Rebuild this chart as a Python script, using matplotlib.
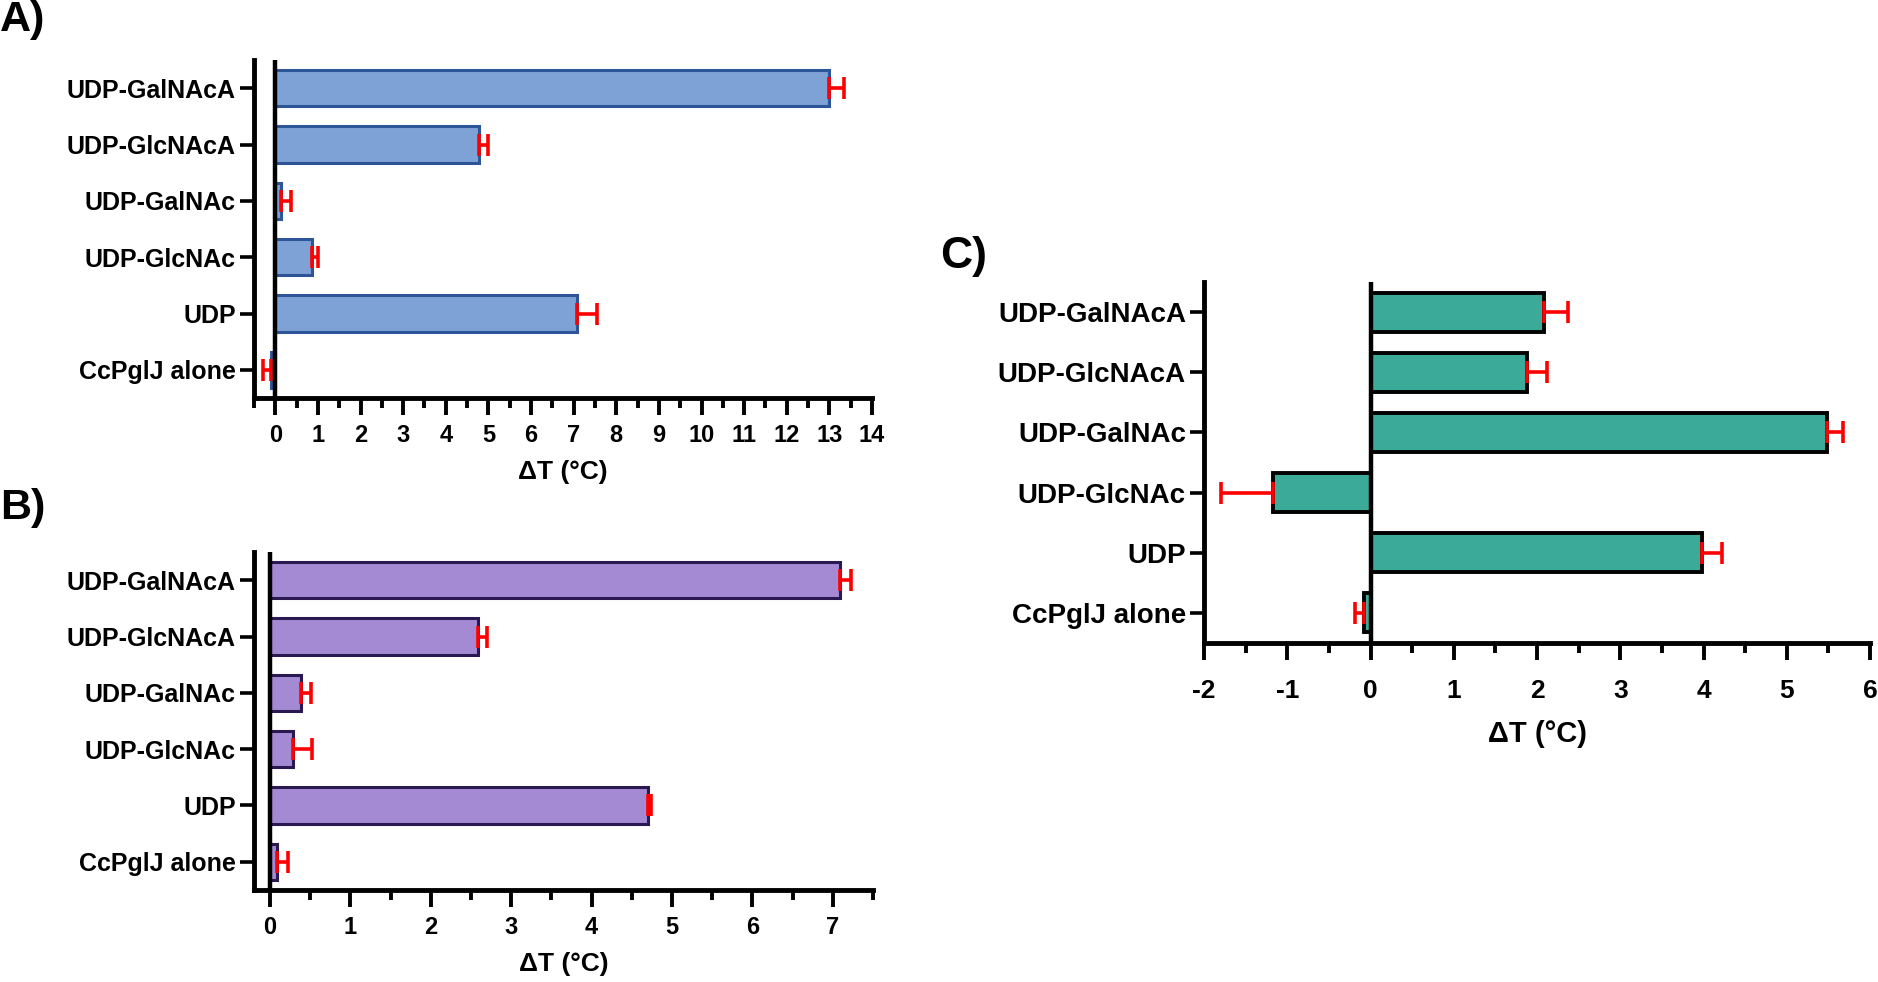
import matplotlib
matplotlib.use("Agg")
import matplotlib.pyplot as plt
from matplotlib.ticker import MultipleLocator

plt.rcParams['font.family'] = ['Liberation Sans', 'DejaVu Sans']
plt.rcParams['font.weight'] = 'bold'
plt.rcParams['axes.unicode_minus'] = False

labels = ["UDP-GalNAcA", "UDP-GlcNAcA", "UDP-GalNAc", "UDP-GlcNAc", "UDP", "CcPglJ alone"]

a_vals = [13.0, 4.78, 0.14, 0.87, 7.08, -0.1]
a_err = [0.35, 0.22, 0.22, 0.12, 0.47, 0.2]

b_vals = [7.09, 2.59, 0.38, 0.29, 4.70, 0.08]
b_err = [0.14, 0.11, 0.13, 0.23, 0.04, 0.14]

c_vals = [2.08, 1.88, 5.48, -1.17, 3.98, -0.08]
c_err = [0.29, 0.24, 0.20, 0.63, 0.24, 0.11]


def panel(ax, vals, errs, fill, edge, edge_w, xlim, major_ticks, fs, xpad, lpad):
    y = list(range(len(labels)))[::-1]
    ax.barh(y, vals, height=0.65, color=fill, edgecolor=edge, linewidth=edge_w, zorder=2)
    lo = [e if v < 0 else 0 for v, e in zip(vals, errs)]
    hi = [e if v >= 0 else 0 for v, e in zip(vals, errs)]
    ax.errorbar(vals, y, xerr=[lo, hi], fmt='none', ecolor='red',
                elinewidth=2.6, capsize=8, capthick=2.6, zorder=3)
    ax.axvline(0, color='black', lw=3.2, zorder=4)
    ax.set_xlim(*xlim)
    ax.set_ylim(-0.5, 5.5)
    ax.set_yticks(y)
    ax.set_yticklabels(labels)
    ax.set_xticks(major_ticks)
    ax.set_xticklabels([str(t) for t in major_ticks])
    ax.xaxis.set_minor_locator(MultipleLocator(0.5))
    for s in ['top', 'right']:
        ax.spines[s].set_visible(False)
    for s in ['left', 'bottom']:
        ax.spines[s].set_linewidth(3.5)
    ax.tick_params(axis='y', length=10, width=2.6, pad=3, labelsize=fs)
    ax.tick_params(axis='x', which='major', length=12, width=2.8, pad=xpad, labelsize=fs - 1)
    ax.tick_params(axis='x', which='minor', length=7, width=2.8)
    ax.set_xlabel("ΔT (°C)", fontsize=fs + 1, fontweight='bold', labelpad=lpad)


fig = plt.figure(figsize=(18.78, 9.82), dpi=100)

ax_a = fig.add_axes([254/1878, 1-398/982, (872-254)/1878, (398-60)/982])
panel(ax_a, a_vals, a_err, '#7EA2D5', '#2E5597', 2.2, (-0.5, 14), list(range(0, 15)), 18, 7, 9)

ax_b = fig.add_axes([254/1878, 1-890/982, (873-254)/1878, (890-552)/982])
panel(ax_b, b_vals, b_err, '#A48AD3', '#2A1850', 2.2, (-0.2, 7.5), list(range(0, 8)), 18, 7, 9)

ax_c = fig.add_axes([1204/1878, 1-643/982, (1870-1204)/1878, (643-282)/982])
panel(ax_c, c_vals, c_err, '#3CAA99', 'black', 2.8, (-2, 6), list(range(-2, 7)), 20, 14, 12)

fig.text(0.0, 1.0, "A)", fontsize=31, fontweight='bold', ha='left', va='top')
fig.text(0.0, 1-488/982, "B)", fontsize=31, fontweight='bold', ha='left', va='top')
fig.text(940/1878, 1-236/982, "C)", fontsize=32, fontweight='bold', ha='left', va='top')

fig.savefig("out.png", dpi=100)
